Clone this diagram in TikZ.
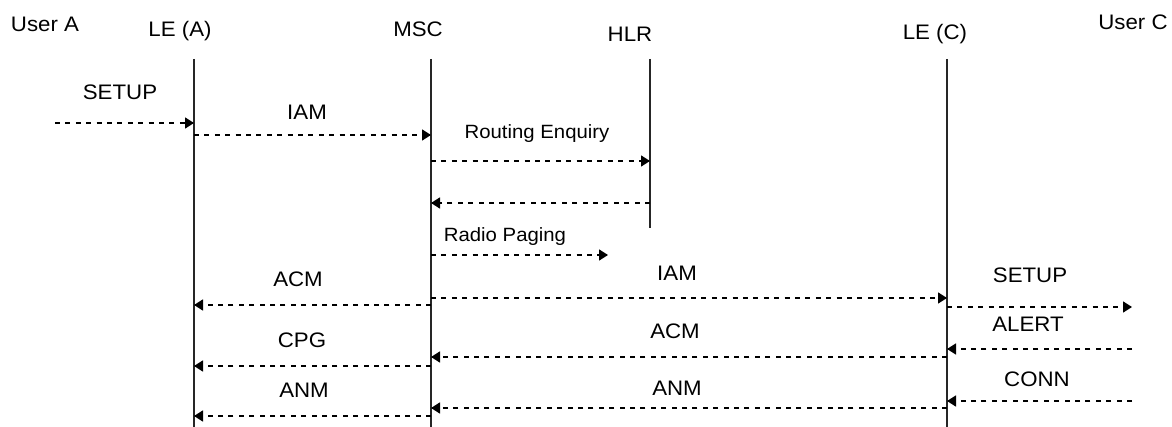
\documentclass[tikz,border=0pt]{standalone}
\usepackage{fontspec}
\setmainfont{Liberation Sans}[FakeStretch=1.06]
\usetikzlibrary{arrows.meta}

\tikzset{
  lifeline/.style={line width=1.3pt, black!85},
  msg/.style={line width=1.6pt, dash pattern=on 5pt off 5.4pt,
              -{Triangle[length=9pt,width=11pt]}},
  lbl/.style={anchor=base, inner sep=0pt, font=\fontsize{21}{24}\selectfont},
  slbl/.style={anchor=base, inner sep=0pt, font=\fontsize{19.2}{22}\selectfont},
}

\begin{document}
\begin{tikzpicture}[x=1pt, y=-1pt]
  \useasboundingbox (0,0) rectangle (1172,427);

  % entity names
  \node[lbl] (userA) at (45,32)  {User A};
  \node[lbl] (nameLEA) at (180,37) {LE (A)};
  \node[lbl] (nameMSC) at (418,37) {MSC};
  \node[lbl] (nameHLR) at (630,42) {HLR};
  \node[lbl] (nameLEC) at (935,40) {LE (C)};
  \node[lbl] (userC) at (1133,30) {User C};

  % lifelines
  \coordinate (leA) at (194,59);
  \coordinate (msc) at (431,59);
  \coordinate (hlr) at (650,59);
  \coordinate (leC) at (947,59);
  \coordinate (leAend) at (194,427);
  \coordinate (mscend) at (431,427);
  \coordinate (hlrend) at (650,228);
  \coordinate (leCend) at (947,427);
  \draw[lifeline] (leA) -- (leAend);
  \draw[lifeline] (msc) -- (mscend);
  \draw[lifeline] (hlr) -- (hlrend);
  \draw[lifeline] (leC) -- (leCend);

  % free ends of messages
  \coordinate (uA) at (55,0);
  \coordinate (uC) at (1132,0);
  \coordinate (radio) at (608,0);

  % messages
  \draw[msg] (uA |- 0,123) -- (leA |- 0,123);
  \node[lbl] (setupA) at (120,100) {SETUP};

  \draw[msg] (leA |- 0,135) -- (msc |- 0,135);
  \node[lbl] (iam1) at (307,120) {IAM};

  \draw[msg] (msc |- 0,161) -- (hlr |- 0,161);
  \node[slbl] (renq) at (537,139) {Routing Enquiry};

  \draw[msg] (hlr |- 0,203) -- (msc |- 0,203);

  \draw[msg] (msc |- 0,255) -- (radio |- 0,255);
  \node[slbl] (rpag) at (505,242) {Radio Paging};

  \draw[msg] (msc |- 0,298) -- (leC |- 0,298);
  \node[lbl] (iam2) at (677,281) {IAM};

  \draw[msg] (leC |- 0,307) -- (uC |- 0,307);
  \node[lbl] (setupC) at (1030,283) {SETUP};

  \draw[msg] (msc |- 0,305) -- (leA |- 0,305);
  \node[lbl] (acm1) at (298,287) {ACM};

  \draw[msg] (uC |- 0,349) -- (leC |- 0,349);
  \node[lbl] (alert) at (1028,332) {ALERT};

  \draw[msg] (leC |- 0,357) -- (msc |- 0,357);
  \node[lbl] (acm2) at (675,338) {ACM};

  \draw[msg] (msc |- 0,366) -- (leA |- 0,366);
  \node[lbl] (cpg) at (302,348) {CPG};

  \draw[msg] (uC |- 0,401) -- (leC |- 0,401);
  \node[lbl] (conn) at (1037,386) {CONN};

  \draw[msg] (leC |- 0,408) -- (msc |- 0,408);
  \node[lbl] (anm2) at (677,395) {ANM};

  \draw[msg] (msc |- 0,416) -- (leA |- 0,416);
  \node[lbl] (anm1) at (304,397) {ANM};
\end{tikzpicture}
\end{document}
